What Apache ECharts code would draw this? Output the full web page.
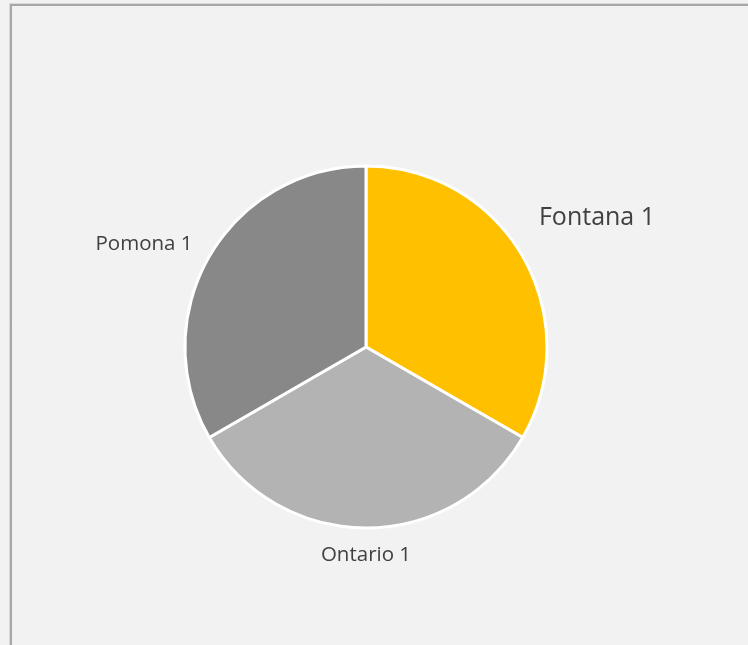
<!DOCTYPE html>
<html>
<head>
<meta charset="utf-8">
<script src="https://cdn.jsdelivr.net/npm/echarts@6/dist/echarts.min.js"></script>
<style>
  html, body { margin: 0; padding: 0; background: #f2f2f2; }
  #chart { width: 748px; height: 645px; }
</style>
</head>
<body>
<div id="chart"></div>
<script>
const cities = ['Fontana', 'Ontario', 'Pomona']
const values = [1, 1, 1]
const colors = ['#ffc000', '#b3b3b3', '#888888']

// where each label sits (px), and its font size
const labelSpots = [
    { x: 597, y: 218, size: 25 },
    { x: 366, y: 555, size: 20.5 },
    { x: 144, y: 244, size: 20.5 }
]

const chart = echarts.init(document.getElementById('chart'))

const option = {
    backgroundColor: '#f2f2f2',
    animation: false,
    graphic: [
        {
            type: 'polyline',
            shape: { points: [[9.5, 645], [9.5, 3.5], [748, 3.5]] },
            style: { stroke: '#d9d9d9', lineWidth: 1, fill: null }
        },
        {
            type: 'polyline',
            shape: { points: [[11, 645], [11, 5], [748, 5]] },
            style: { stroke: '#a8a8a8', lineWidth: 2, fill: null }
        }
    ],
    series: [
        {
            type: 'pie',
            center: [366, 347],
            radius: 181,
            startAngle: 90,
            clockwise: true,
            itemStyle: {
                borderColor: '#ffffff',
                borderWidth: 3
            },
            label: {
                show: true,
                position: 'outside',
                formatter: (p) => p.name + ' ' + p.value,
                color: '#404040',
                fontFamily: 'Open Sans'
            },
            labelLine: { show: false },
            labelLayout: (p) => {
                const s = labelSpots[p.dataIndex]
                return { x: s.x, y: s.y, align: 'center', verticalAlign: 'middle', fontSize: s.size }
            },
            emphasis: { disabled: true },
            data: cities.map((c, i) => ({
                name: c,
                value: values[i],
                itemStyle: { color: colors[i] },
                label: { fontSize: labelSpots[i].size }
            }))
        }
    ]
}

chart.setOption(option)
</script>
</body>
</html>
